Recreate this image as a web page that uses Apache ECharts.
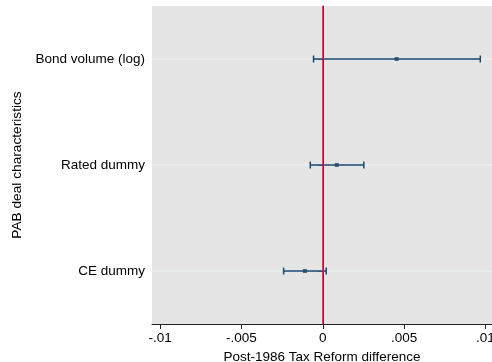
<!DOCTYPE html>
<html><head><meta charset="utf-8">
<script src="https://cdn.jsdelivr.net/npm/echarts@6/dist/echarts.min.js"></script>
<style>html,body{margin:0;padding:0;background:#fff}#c{width:492px;height:362px}</style>
</head><body><div id="c"></div>
<script>
const categories = ['CE dummy', 'Rated dummy', 'Bond volume (log)'];
const estimates = [-0.0011, 0.00086, 0.00454];
const lowerCI = [-0.00241, -0.00077, -0.00057];
const upperCI = [0.00021, 0.00252, 0.00968];
const xTicks = [-0.01, -0.005, 0, 0.005, 0.01];
const xTickLabels = ['-.01', '-.005', '0', '.005', '.01'];

const navy = '#1a476f';
const font = 'Liberation Sans, Arial, sans-serif';
const chart = echarts.init(document.getElementById('c'), null, {renderer: 'canvas'});
chart.setOption({
  animation: false,
  grid: {left: 152, right: 0, top: 6, bottom: 38, backgroundColor: '#e5e5e5', show: true, borderWidth: 0,
         containLabel: false, outerBoundsMode: 'none'},
  xAxis: {
    type: 'value', min: -0.0105, max: 0.0104,
    name: 'Post-1986 Tax Reform difference', nameLocation: 'middle', nameGap: 22,
    nameTextStyle: {fontFamily: font, fontSize: 13.5, color: '#000'},
    axisLine: {show: true, lineStyle: {color: '#222', width: 1}},
    axisTick: {show: true, length: 5, lineStyle: {color: '#222'}, customValues: xTicks},
    axisLabel: {fontFamily: font, fontSize: 13.5, color: '#000', margin: 7, customValues: xTicks,
      formatter: v => { const i = xTicks.findIndex(t => Math.abs(t - v) < 1e-9); return i >= 0 ? xTickLabels[i] : ''; }},
    splitLine: {show: false}
  },
  yAxis: {
    type: 'category', data: categories, boundaryGap: true,
    name: 'PAB deal characteristics', nameLocation: 'middle', nameGap: 121, nameRotate: 90,
    nameTextStyle: {fontFamily: font, fontSize: 13.7, color: '#000'},
    axisLine: {show: true, lineStyle: {color: '#222', width: 1}},
    axisTick: {show: true, alignWithLabel: true, length: 5, lineStyle: {color: '#222'}},
    axisLabel: {fontFamily: font, fontSize: 13.5, color: '#000', margin: 7},
    splitLine: {show: false}
  },
  series: [
    {
      type: 'custom',
      data: categories.map((c, i) => [lowerCI[i], upperCI[i], i]),
      encode: {x: [0, 1], y: 2},
      z: 2,
      renderItem: function (params, api) {
        const ci = api.value(2);
        const grid = params.coordSys;
        const a = api.coord([api.value(0), ci]);
        const b = api.coord([api.value(1), ci]);
        const h = 3.5;
        return {type: 'group', children: [
          {type: 'line', shape: {x1: grid.x, y1: a[1], x2: grid.x + grid.width, y2: a[1]}, style: {stroke: '#eef3f4', lineWidth: 1}, z2: 0},
          {type: 'line', shape: {x1: a[0], y1: a[1], x2: b[0], y2: b[1]}, style: {stroke: navy, lineWidth: 1.5}, z2: 2},
          {type: 'line', shape: {x1: a[0], y1: a[1] - h, x2: a[0], y2: a[1] + h}, style: {stroke: navy, lineWidth: 1.5}, z2: 2},
          {type: 'line', shape: {x1: b[0], y1: b[1] - h, x2: b[0], y2: b[1] + h}, style: {stroke: navy, lineWidth: 1.5}, z2: 2}
        ]};
      }
    },
    {
      type: 'scatter',
      data: categories.map((c, i) => [estimates[i], c]),
      symbol: 'rect', symbolSize: 4,
      itemStyle: {color: navy},
      z: 4,
      markLine: {
        silent: true, symbol: ['none', 'none'], label: {show: false},
        lineStyle: {color: '#e8003d', width: 1.5, type: 'solid'},
        data: [{xAxis: 0}]
      }
    }
  ]
});
</script></body></html>
